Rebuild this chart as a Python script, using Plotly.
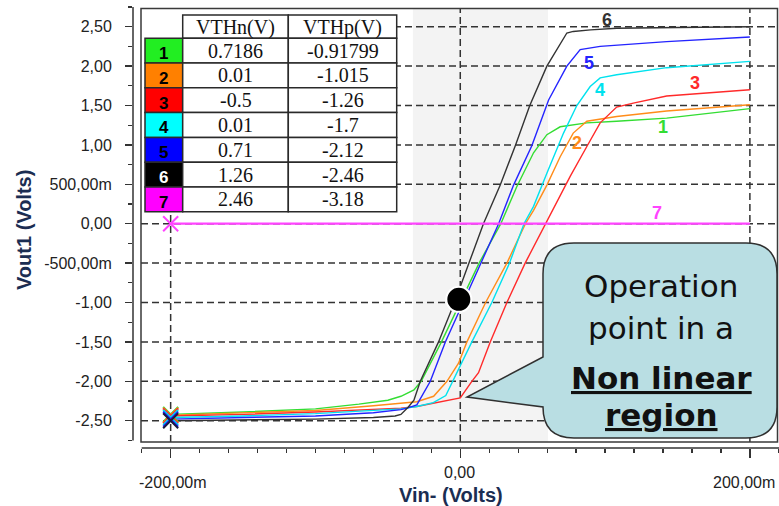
import plotly.graph_objects as go

# ---------------- data ----------------
c1_x = [-0.2, -0.15, -0.1, -0.07, -0.05, -0.041, -0.032, -0.027, -0.013, 0.0, 0.013, 0.028, 0.039, 0.0506, 0.0598, 0.069, 0.0874, 0.108, 0.1425, 0.2]
c1_y = [-2.42, -2.39, -2.35, -2.29, -2.24, -2.19, -2.11, -2.0, -1.5, -1.0, -0.5, 0.0, 0.47, 0.90, 1.13, 1.23, 1.28, 1.30, 1.34, 1.46]

c2_x = [-0.2, -0.15, -0.1, -0.06, -0.041, -0.03, -0.0184, -0.0092, -0.0012, 0.0046, 0.0175, 0.0322, 0.045, 0.0506, 0.0598, 0.069, 0.078, 0.0874, 0.108, 0.1425, 0.2]
c2_y = [-2.43, -2.40, -2.37, -2.31, -2.28, -2.26, -2.19, -2.0, -1.77, -1.5, -1.0, -0.5, 0.0, 0.17, 0.49, 0.85, 1.15, 1.30, 1.36, 1.43, 1.51]

c3_x = [-0.2, -0.15, -0.1, -0.06, -0.041, -0.03, -0.0138, 0.0, 0.008, 0.0126, 0.0207, 0.0322, 0.0448, 0.059, 0.0667, 0.0759, 0.0874, 0.0966, 0.108, 0.1195, 0.1425, 0.2]
c3_y = [-2.44, -2.42, -2.39, -2.36, -2.34, -2.32, -2.26, -2.21, -2.0, -1.89, -1.5, -1.0, -0.5, 0.0, 0.26, 0.60, 0.98, 1.28, 1.48, 1.53, 1.62, 1.70]

c4_x = [-0.2, -0.15, -0.1, -0.06, -0.041, -0.03, -0.0186, -0.010, -0.004, 0.001, 0.008, 0.0218, 0.034, 0.044, 0.0506, 0.0598, 0.0713, 0.0805, 0.0897, 0.0966, 0.108, 0.1425, 0.2]
c4_y = [-2.46, -2.44, -2.41, -2.37, -2.35, -2.32, -2.27, -2.18, -1.95, -1.75, -1.5, -1.0, -0.5, 0.0, 0.22, 0.64, 1.15, 1.50, 1.74, 1.85, 1.89, 1.98, 2.06]

c5_x = [-0.2, -0.15, -0.1, -0.06, -0.041, -0.0368, -0.030, -0.0207, -0.0103, 0.002, 0.0145, 0.0265, 0.0368, 0.0494, 0.061, 0.0736, 0.0828, 0.0966, 0.1425, 0.2]
c5_y = [-2.48, -2.46, -2.44, -2.40, -2.36, -2.34, -2.30, -2.0, -1.5, -1.0, -0.5, 0.0, 0.49, 0.99, 1.57, 2.0, 2.21, 2.25, 2.31, 2.37]

c6_x = [-0.2, -0.15, -0.1, -0.06, -0.045, -0.041, -0.036, -0.032, -0.0276, -0.015, -0.004, 0.006, 0.016, 0.0276, 0.038, 0.048, 0.0598, 0.0736, 0.078, 0.09, 0.108, 0.15, 0.2]
c6_y = [-2.50, -2.49, -2.48, -2.46, -2.44, -2.42, -2.33, -2.24, -2.0, -1.5, -1.0, -0.5, 0.0, 0.49, 0.99, 1.50, 2.0, 2.42, 2.44, 2.46, 2.48, 2.49, 2.50]

c7_x = [-0.2, 0.2]
c7_y = [0.0, 0.0]

curve_names = ["1", "2", "3", "4", "5", "6", "7"]
curve_colors = ["#33DD33", "#FF8C1A", "#FF2A2A", "#00E2EE", "#2424FF", "#333333", "#FF44FF"]

# operation point
op_x = [-0.001]
op_y = [-0.96]

# table
table_ids = ["1", "2", "3", "4", "5", "6", "7"]
table_colors = ["#22EE22", "#FF8000", "#FF0000", "#00FFFF", "#0000FF", "#000000", "#FF00FF"]
table_vthn = ["0.7186", "0.01", "-0.5", "0.01", "0.71", "1.26", "2.46"]
table_vthp = ["-0.91799", "-1.015", "-1.26", "-1.7", "-2.12", "-2.46", "-3.18"]
table_header = ["VTHn(V)", "VTHp(V)"]

# axes
ytick_vals = [2.5, 2.0, 1.5, 1.0, 0.5, 0.0, -0.5, -1.0, -1.5, -2.0, -2.5]
ytick_text = ["2,50", "2,00", "1,50", "1,00", "500,00m", "0,00", "-500,00m", "-1,00", "-1,50", "-2,00", "-2,50"]
xtick_vals = [-0.2, 0.0, 0.2]
xtick_text = ["-200,00m", "0,00", "200,00m"]

# highlighted region (x range)
region_x = [-0.0327, 0.0606]

# ---------------- layout helpers ----------------
W, H = 779, 506
L, R, T, B = 133, 779, 6, 448
X_RANGE = [-0.2260, 0.2201]
Y_RANGE = [-2.8464, 2.7627]


def px(x):
    return (x - L) / (R - L)


def py(y):
    return (B - y) / (B - T)


def txt(x, y, text, font, xref="paper", yref="paper", **kw):
    d = dict(xref=xref, yref=yref, x=x, y=y, text=text, showarrow=False,
             xanchor="center", yanchor="middle", font=font)
    d.update(kw)
    return d


fig = go.Figure()

for xs, ys, col in zip([c1_x, c2_x, c3_x, c4_x, c5_x, c6_x, c7_x],
                       [c1_y, c2_y, c3_y, c4_y, c5_y, c6_y, c7_y], curve_colors):
    w = 2.2 if col == "#FF44FF" else 1.4
    fig.add_trace(go.Scatter(x=xs, y=ys, mode="lines", line=dict(color=col, width=w),
                             showlegend=False, hoverinfo="skip"))

# start markers
for xs, ys, col in zip([c7_x, c1_x, c2_x, c3_x, c4_x, c5_x, c6_x],
                       [c7_y, c1_y, c2_y, c3_y, c4_y, c5_y, c6_y],
                       [curve_colors[6]] + curve_colors[:6]):
    fig.add_trace(go.Scatter(x=[xs[0]], y=[ys[0]], mode="markers",
                             marker=dict(symbol="x-thin", size=15,
                                         line=dict(color=col if col != "#333333" else "#1a1a40", width=2)),
                             showlegend=False, hoverinfo="skip"))

# operation point
fig.add_trace(go.Scatter(x=op_x, y=op_y, mode="markers",
                         marker=dict(size=25, color="black", line=dict(color="white", width=2)),
                         showlegend=False, hoverinfo="skip"))

shapes = []
grid_line = dict(color="#333333", width=1.5, dash="7px,4px")
# shaded region
shapes.append(dict(type="rect", xref="x", yref="paper", x0=region_x[0], x1=region_x[1],
                   y0=py(442), y1=py(8.5), fillcolor="#F3F3F3", line=dict(width=0), layer="below"))
# grid lines (dashed)
for v in ytick_vals:
    shapes.append(dict(type="line", xref="paper", yref="y", x0=px(141), x1=px(778), y0=v, y1=v,
                       line=grid_line, layer="below"))
for v in xtick_vals:
    shapes.append(dict(type="line", xref="x", yref="paper", x0=v, x1=v, y0=py(442), y1=py(8.5),
                       line=grid_line, layer="below"))

# white area behind table
shapes.append(dict(type="rect", xref="paper", yref="paper", x0=px(141), x1=px(397),
                   y0=py(212.5), y1=py(8.5), fillcolor="white", line=dict(width=0), layer="above"))

# table cells
tb_line = dict(color="#2a2a2a", width=1.5)
col_x = [145, 182.7, 288.3, 396.7]
head_top, row_top0, row_h = 15, 38.3, 24.77
for j in range(2):
    shapes.append(dict(type="rect", xref="paper", yref="paper", x0=px(col_x[j + 1]), x1=px(col_x[j + 2]),
                       y0=py(row_top0), y1=py(head_top), fillcolor="white", line=tb_line, layer="above"))
for i in range(7):
    t = row_top0 + i * row_h
    b = t + row_h
    shapes.append(dict(type="rect", xref="paper", yref="paper", x0=px(col_x[0]), x1=px(col_x[1]),
                       y0=py(b), y1=py(t), fillcolor=table_colors[i], line=tb_line, layer="above"))
    for j in range(2):
        shapes.append(dict(type="rect", xref="paper", yref="paper", x0=px(col_x[j + 1]), x1=px(col_x[j + 2]),
                           y0=py(b), y1=py(t), fillcolor="white", line=tb_line, layer="above"))

# plot frame
shapes.append(dict(type="rect", xref="paper", yref="paper", x0=px(141), x1=px(777.5),
                   y0=py(442), y1=py(8.5), line=dict(color="#3a3a3a", width=1.5), layer="above"))
# axis lines
shapes.append(dict(type="line", xref="paper", yref="y", x0=0, x1=0, y0=-2.75, y1=2.75,
                   line=dict(color="#333333", width=1.5)))
shapes.append(dict(type="line", xref="x", yref="paper", x0=-0.22, x1=X_RANGE[1], y0=0, y1=0,
                   line=dict(color="#333333", width=1.5)))

# callout bubble
r = 31
bl, br, bt, bb = 543, 777, 243, 438
tip = (467, 397)
pts = [
    ("M", bl + r, bt), ("L", br - r, bt), ("Q", br, bt, br, bt + r), ("L", br, bb - r),
    ("Q", br, bb, br - r, bb), ("L", bl + r, bb), ("Q", bl, bb, bl, bb - r),
    ("L", bl, 407), ("L", tip[0], tip[1]), ("L", bl, 357), ("L", bl, bt + r),
    ("Q", bl, bt, bl + r, bt),
]
path = ""
for p in pts:
    cmd = p[0]
    coords = p[1:]
    s = []
    for k in range(0, len(coords), 2):
        s.append(f"{px(coords[k]):.5f},{py(coords[k + 1]):.5f}")
    path += cmd + " " + " ".join(s) + " "
path += "Z"
shapes.append(dict(type="path", xref="paper", yref="paper", path=path, fillcolor="#B9DEE3",
                   line=dict(color="#303030", width=1.5), layer="above"))

annotations = []
sans = "Liberation Sans, Arial, sans-serif"
serif = "Liberation Serif, Times New Roman, serif"
dejavu = "DejaVu Sans, Verdana, sans-serif"

# table text
for j, h in enumerate(table_header):
    annotations.append(txt(px((col_x[j + 1] + col_x[j + 2]) / 2), py(27), h,
                           dict(family=serif, size=20, color="#111111")))
for i in range(7):
    cy = row_top0 + i * row_h + row_h / 2
    annotations.append(txt(px((col_x[0] + col_x[1]) / 2), py(cy + 3), "<b>" + table_ids[i] + "</b>",
                           dict(family=sans, size=17, color="white" if i == 5 else "black")))
    annotations.append(txt(px((col_x[1] + col_x[2]) / 2), py(cy), table_vthn[i],
                           dict(family=serif, size=20, color="#111111")))
    annotations.append(txt(px((col_x[2] + col_x[3]) / 2), py(cy), table_vthp[i],
                           dict(family=serif, size=20, color="#111111")))

# curve labels (data coordinates)
label_pos = [(0.140, 1.23), (0.0804, 1.02), (0.162, 1.78), (0.0965, 1.70), (0.0891, 2.04), (0.101, 2.585), (0.1356, 0.13)]
for name, col, (lx, ly) in zip(curve_names, curve_colors, label_pos):
    annotations.append(txt(lx, ly, "<b>" + name + "</b>", dict(family=sans, size=18, color=col),
                           xref="x", yref="y"))

# x tick labels
xlab_y = [482.5, 472.3, 482.0]
xlab_shift = [2, -1, -6]
for v, t, yy, sh in zip(xtick_vals, xtick_text, xlab_y, xlab_shift):
    annotations.append(txt(v, py(yy), t, dict(family=sans, size=16, color="#222222"),
                           xref="x", yref="paper", xshift=sh))

# axis titles
annotations.append(txt(px(451), py(495), "<b>Vin- (Volts)</b>", dict(family=sans, size=20, color="#1B2D52")))
annotations.append(txt(px(24), py(230), "<b>Vout1 (Volts)</b>", dict(family=sans, size=20, color="#1B2D52"),
                       textangle=-90))

# callout text
cx = 661
cfont = dict(family=dejavu, size=31, color="#111111")
annotations.append(txt(px(cx), py(286), "Operation", cfont))
annotations.append(txt(px(cx), py(327.5), "point in a", cfont))
annotations.append(txt(px(cx), py(377.5), "<b><u>Non linear</u></b>", cfont))
annotations.append(txt(px(cx), py(414.5), "<b><u>region</u></b>", cfont))

fig.update_layout(
    width=W, height=H,
    margin=dict(l=L, r=W - R, t=T, b=H - B, pad=0),
    paper_bgcolor="white", plot_bgcolor="white",
    shapes=shapes, annotations=annotations,
    xaxis=dict(range=X_RANGE, showgrid=False, zeroline=False, showline=False,
               tickvals=xtick_vals, showticklabels=False, ticks="outside", ticklen=9,
               tickwidth=1.4, tickcolor="#333333",
               minor=dict(dtick=0.02, tick0=0, ticks="outside", ticklen=4, tickwidth=1.3,
                          tickcolor="#333333", showgrid=False)),
    yaxis=dict(range=Y_RANGE, showgrid=False, zeroline=False, showline=False,
               tickvals=ytick_vals, ticktext=ytick_text, ticks="outside", ticklen=7,
               tickwidth=1.4, tickcolor="#333333", ticklabelstandoff=10,
               tickfont=dict(family=sans, size=16, color="#222222"),
               minor=dict(dtick=0.25, tick0=0, ticks="outside", ticklen=4, tickwidth=1.3,
                          tickcolor="#333333", showgrid=False)),
)

fig.write_html("out.html", config={"displayModeBar": False, "staticPlot": True},
               post_script="document.body.style.margin='0';document.body.style.padding='0';")
